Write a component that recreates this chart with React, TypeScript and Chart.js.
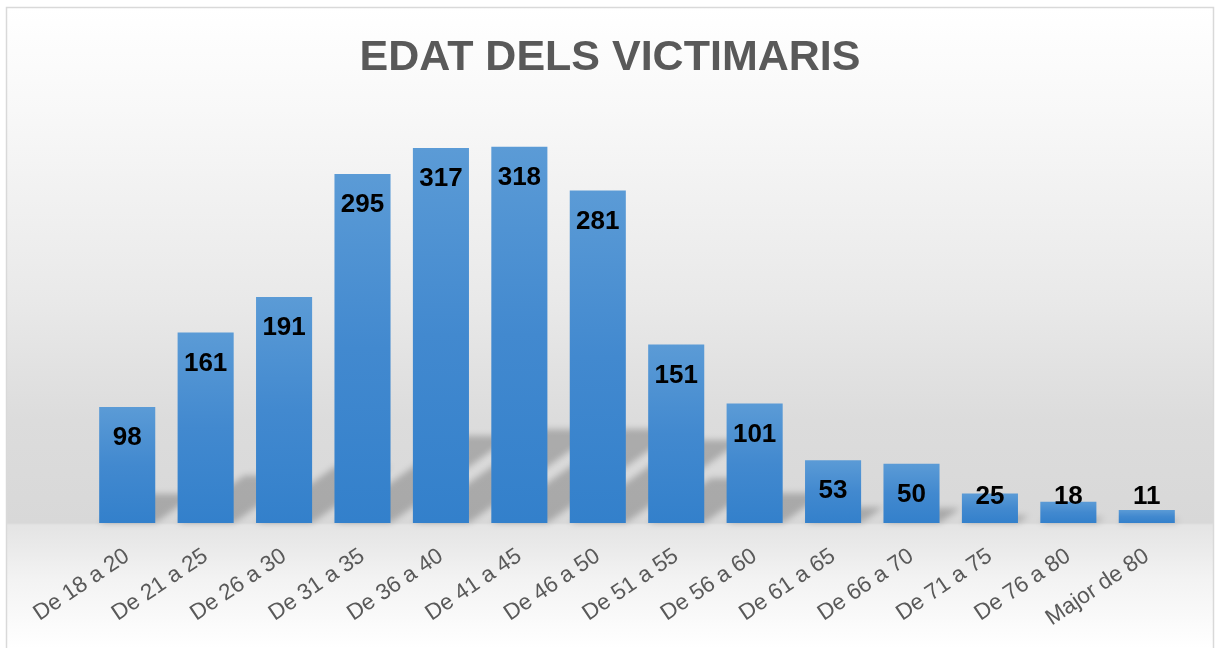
import React, { useEffect, useRef } from "react";
import { Chart, registerables } from "chart.js";

Chart.register(...registerables);

const TITLE = "EDAT DELS VICTIMARIS";
const categories = [
  "De 18 a 20",
  "De 21 a 25",
  "De 26 a 30",
  "De 31 a 35",
  "De 36 a 40",
  "De 41 a 45",
  "De 46 a 50",
  "De 51 a 55",
  "De 56 a 60",
  "De 61 a 65",
  "De 66 a 70",
  "De 71 a 75",
  "De 76 a 80",
  "Major de 80",
];
const values = [98, 161, 191, 295, 317, 318, 281, 151, 101, 53, 50, 25, 18, 11];
const Y_MIN = 0;
const Y_MAX = 350;

const FONT = "'Liberation Sans', Arial, 'DejaVu Sans', sans-serif";

const backgroundPlugin = {
  id: "bgPanel",
  beforeDraw(chart: any) {
    const { ctx, width, height } = chart;
    const base = chart.scales.y.getPixelForValue(0);
    ctx.save();
    ctx.fillStyle = "#ffffff";
    ctx.fillRect(0, 0, width, height);
    const left = 6.5, top = 7.5, right = 1213.5, bottom = height + 5;
    const g = ctx.createLinearGradient(0, top, 0, height);
    const span = height - top;
    const at = (y: number) => Math.min(1, Math.max(0, (y - top) / span));
    g.addColorStop(0, "#ffffff");
    g.addColorStop(at(110), "#f8f8f8");
    g.addColorStop(at(300), "#e9e9e9");
    g.addColorStop(at(420), "#dcdcdc");
    g.addColorStop(at(base), "#d8d8d8");
    g.addColorStop(at(base + 2), "#e4e4e4");
    g.addColorStop(at(580), "#f3f3f3");
    g.addColorStop(1, "#ffffff");
    ctx.fillStyle = g;
    ctx.fillRect(left, top, right - left, bottom - top);
    ctx.strokeStyle = "#d9d9d9";
    ctx.lineWidth = 1.5;
    ctx.strokeRect(left, top, right - left, bottom - top);
    ctx.restore();
  },
};

const titlePlugin = {
  id: "centeredTitle",
  afterDraw(chart: any) {
    const { ctx, width } = chart;
    ctx.save();
    ctx.font = `bold 43px ${FONT}`;
    ctx.fillStyle = "#595959";
    ctx.textAlign = "center";
    ctx.textBaseline = "alphabetic";
    ctx.fillText(TITLE, width / 2 + 2, 70);
    ctx.restore();
  },
};

const shadowPlugin = {
  id: "barShadows",
  beforeDatasetsDraw(chart: any) {
    const { ctx } = chart;
    const meta = chart.getDatasetMeta(0);
    ctx.save();
    ctx.filter = "blur(3px)";
    ctx.fillStyle = "rgba(0,0,0,0.22)";
    meta.data.forEach((bar: any) => {
      const { x, y, base, width } = bar.getProps(["x", "y", "base", "width"], true);
      const h = base - y;
      const s = 0.25 * h;
      const dx = 0.35 * h;
      ctx.beginPath();
      ctx.moveTo(x - width / 2, base);
      ctx.lineTo(x + width / 2, base);
      ctx.lineTo(x + width / 2 + dx, base - s);
      ctx.lineTo(x - width / 2 + dx, base - s);
      ctx.closePath();
      ctx.fill();
    });
    ctx.restore();
  },
};

const valueLabelPlugin = {
  id: "valueLabels",
  afterDatasetsDraw(chart: any) {
    const { ctx } = chart;
    const meta = chart.getDatasetMeta(0);
    const data = chart.data.datasets[0].data;
    ctx.save();
    ctx.font = `bold 26px ${FONT}`;
    ctx.fillStyle = "#000000";
    ctx.textAlign = "center";
    ctx.textBaseline = "middle";
    meta.data.forEach((bar: any, i: number) => {
      const { x, y, base } = bar.getProps(["x", "y", "base"], true);
      const ly = Math.min(y + 31, base - 26);
      ctx.fillText(String(data[i]), x, ly);
    });
    ctx.restore();
  },
};

export default function App() {
  const canvasRef = useRef<HTMLCanvasElement | null>(null);

  useEffect(() => {
    document.body.style.margin = "0";
    const canvas = canvasRef.current;
    if (!canvas) return;
    const chart = new Chart(canvas, {
      type: "bar",
      data: {
        labels: categories,
        datasets: [
          {
            data: values,
            backgroundColor: (c: any) => {
              const ch = c.chart;
              const ys = ch.scales && ch.scales.y;
              if (!ch.chartArea || !ys || c.type !== "data") return "#4a8fd2";
              const top = ys.getPixelForValue(c.raw);
              const base = ys.getPixelForValue(0);
              if (!isFinite(top) || !isFinite(base) || base - top < 1) return "#4a8fd2";
              const g = ch.ctx.createLinearGradient(0, top, 0, base);
              g.addColorStop(0, "#5b9bd6");
              g.addColorStop(0.5, "#4289cf");
              g.addColorStop(1, "#3380cb");
              return g;
            },
            borderWidth: 0,
            categoryPercentage: 1,
            barPercentage: 0.715,
          },
        ],
      },
      options: {
        animation: false,
        responsive: false,
        maintainAspectRatio: false,
        layout: { padding: { left: 88, right: 30, top: 109, bottom: 0 } },
        plugins: {
          legend: { display: false },
          tooltip: { enabled: false },
          title: { display: false },
        },
        scales: {
          x: {
            grid: { display: false, drawTicks: false },
            border: { display: false },
            ticks: {
              color: "#595959",
              font: { family: FONT, size: 22.5 },
              minRotation: 34,
              maxRotation: 34,
              autoSkip: false,
              padding: 20,
            },
            afterFit(scale: any) {
              scale.height = 125;
            },
          },
          y: {
            display: false,
            min: Y_MIN,
            max: Y_MAX,
          },
        },
      },
      plugins: [backgroundPlugin, shadowPlugin, valueLabelPlugin, titlePlugin],
    });
    return () => chart.destroy();
  }, []);

  return (
    <div style={{ width: 1216, height: 648 }}>
      <canvas ref={canvasRef} width={1216} height={648} style={{ display: "block" }} />
    </div>
  );
}
